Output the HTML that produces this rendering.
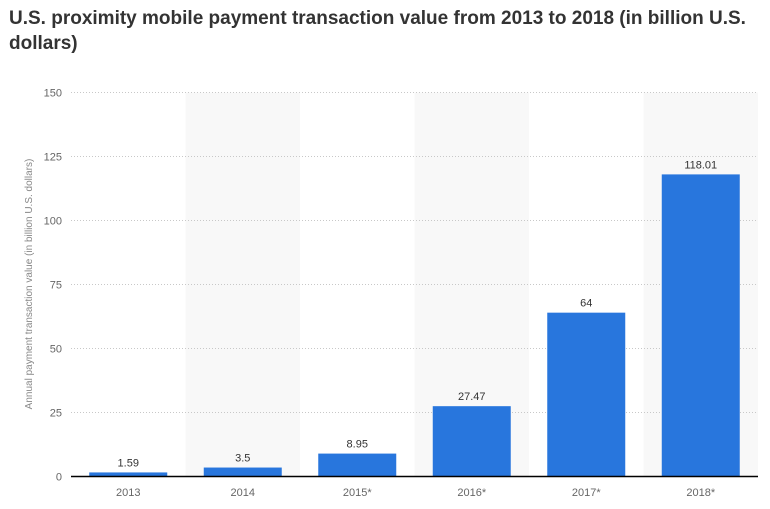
<!DOCTYPE html>
<html><head><meta charset="utf-8"><style>
body{margin:0;background:#fff;width:770px;height:509px;overflow:hidden;font-family:"Liberation Sans",sans-serif}
h1{position:absolute;left:9px;top:6px;margin:0;width:750px;font-size:19px;line-height:25px;font-weight:bold;color:#333}
</style></head><body>
<h1>U.S. proximity mobile payment transaction value from 2013 to 2018 (in billion U.S. dollars)</h1>
<svg id="c" width="770" height="509" style="position:absolute;left:0;top:0"></svg>
<script>
const categories=["2013","2014","2015*","2016*","2017*","2018*"];
const values=[1.59,3.5,8.95,27.47,64,118.01];
const valueLabels=["1.59","3.5","8.95","27.47","64","118.01"];
const yTicks=[0,25,50,75,100,125,150];
const svg=document.getElementById('c');
const NS="http://www.w3.org/2000/svg";
const L=71,R=758,T=92.5,B=476.5,yMax=150;
const bw=(R-L)/categories.length;
const y=v=>B-(v/yMax)*(B-T);
const x=i=>L+i*bw;
function mk(t,a,txt){const e=document.createElementNS(NS,t);for(const k in a)e.setAttribute(k,a[k]);if(txt!==undefined)e.textContent=txt;svg.appendChild(e);return e;}
categories.forEach((c,i)=>{if(i%2===1){const r=mk('rect',{x:x(i),y:T,width:bw,height:B-T,fill:'#f8f8f8'});

}});
yTicks.forEach(t=>{if(t>0){const g=mk('line',{x1:L,x2:R,y1:y(t),y2:y(t),stroke:'#c8c8c8','stroke-dasharray':'1,2'});

}
const l=mk('text',{x:62,y:y(t)+4,'text-anchor':'end','font-size':11,fill:'#666'},t);

});
categories.forEach((c,i)=>{const cx=x(i)+bw/2,w=78;
const b=mk('rect',{x:cx-w/2,y:y(values[i]),width:w,height:B-y(values[i]),fill:'#2876dd'});


const v=mk('text',{x:cx,y:y(values[i])-6,'text-anchor':'middle','font-size':11,fill:'#333'},valueLabels[i]);


const xl=mk('text',{x:cx,y:496,'text-anchor':'middle','font-size':11,fill:'#666'},c);

});
const ax=mk('line',{x1:L,x2:R,y1:B,y2:B,stroke:'#000','stroke-width':1.5});


const yt=mk('text',{x:0,y:0,transform:'translate(32,284) rotate(-90)','text-anchor':'middle','font-size':10,fill:'#888'},'Annual payment transaction value (in billion U.S. dollars)');


</script>
</body></html>
